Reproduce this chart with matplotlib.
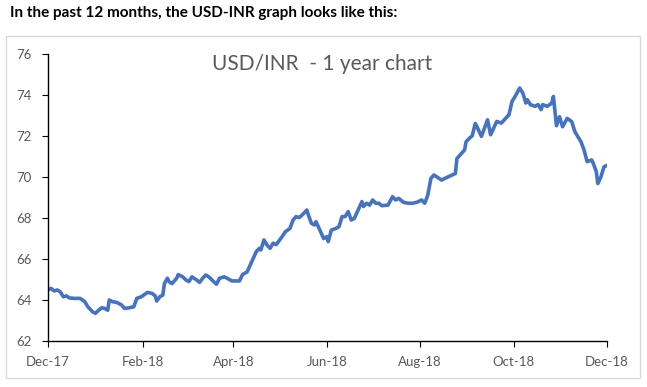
import matplotlib
matplotlib.use("Agg")
import matplotlib.pyplot as plt
import matplotlib.dates as mdates
from matplotlib.patches import Rectangle
import pandas as pd

dates = [
    "2017-12-01", "2017-12-03", "2017-12-05", "2017-12-07", "2017-12-09", "2017-12-11", "2017-12-13",
    "2017-12-15", "2017-12-18", "2017-12-22", "2017-12-25", "2017-12-27", "2017-12-30", "2018-01-01",
    "2018-01-03", "2018-01-05", "2018-01-07", "2018-01-09", "2018-01-10", "2018-01-12", "2018-01-15",
    "2018-01-18", "2018-01-20", "2018-01-23", "2018-01-26", "2018-01-28", "2018-01-31", "2018-02-02",
    "2018-02-04", "2018-02-07", "2018-02-09", "2018-02-10", "2018-02-12", "2018-02-14", "2018-02-15",
    "2018-02-17", "2018-02-18", "2018-02-20", "2018-02-23", "2018-02-24", "2018-02-27", "2018-03-01",
    "2018-03-03", "2018-03-05", "2018-03-08", "2018-03-10", "2018-03-12", "2018-03-14", "2018-03-16",
    "2018-03-18", "2018-03-21", "2018-03-23", "2018-03-26", "2018-03-28", "2018-03-31", "2018-04-02",
    "2018-04-05", "2018-04-07", "2018-04-10", "2018-04-12", "2018-04-14", "2018-04-16", "2018-04-18",
    "2018-04-19", "2018-04-21", "2018-04-23", "2018-04-25", "2018-04-27", "2018-04-29", "2018-05-02",
    "2018-05-05", "2018-05-08", "2018-05-10", "2018-05-12", "2018-05-14", "2018-05-16", "2018-05-19",
    "2018-05-20", "2018-05-22", "2018-05-24", "2018-05-25", "2018-05-28", "2018-05-30", "2018-06-01",
    "2018-06-02", "2018-06-04", "2018-06-07", "2018-06-09", "2018-06-11", "2018-06-13", "2018-06-15",
    "2018-06-17", "2018-06-19", "2018-06-21", "2018-06-24", "2018-06-25", "2018-06-27", "2018-06-29",
    "2018-07-01", "2018-07-03", "2018-07-05", "2018-07-07", "2018-07-11", "2018-07-14", "2018-07-16",
    "2018-07-18", "2018-07-21", "2018-07-24", "2018-07-27", "2018-07-30", "2018-08-02", "2018-08-04",
    "2018-08-06", "2018-08-08", "2018-08-10", "2018-08-12", "2018-08-15", "2018-08-17", "2018-08-19",
    "2018-08-22", "2018-08-24", "2018-08-25", "2018-08-28", "2018-08-30", "2018-08-31", "2018-09-02",
    "2018-09-04", "2018-09-06", "2018-09-07", "2018-09-10", "2018-09-14", "2018-09-16", "2018-09-20",
    "2018-09-23", "2018-09-26", "2018-09-28", "2018-09-30", "2018-10-02", "2018-10-05", "2018-10-07",
    "2018-10-09", "2018-10-10", "2018-10-12", "2018-10-15", "2018-10-17", "2018-10-19", "2018-10-20",
    "2018-10-23", "2018-10-26", "2018-10-27", "2018-10-29", "2018-10-31", "2018-11-02", "2018-11-05",
    "2018-11-08", "2018-11-10", "2018-11-12", "2018-11-14", "2018-11-16", "2018-11-18", "2018-11-21",
    "2018-11-22", "2018-11-24", "2018-11-25", "2018-11-27", "2018-11-29", "2018-12-01",
]
usd_inr = [
    64.49, 64.57, 64.44, 64.49, 64.40, 64.16, 64.20,
    64.10, 64.08, 64.08, 63.92, 63.67, 63.43, 63.35,
    63.50, 63.62, 63.59, 63.50, 64.00, 63.92, 63.88,
    63.76, 63.59, 63.62, 63.67, 64.08, 64.16, 64.27,
    64.37, 64.32, 64.20, 63.95, 64.16, 64.24, 64.80,
    65.06, 64.90, 64.80, 65.06, 65.24, 65.13, 64.98,
    64.90, 65.13, 64.98, 64.86, 65.06, 65.22, 65.13,
    64.98, 64.77, 65.06, 65.13, 65.06, 64.93, 64.93,
    64.93, 65.24, 65.37, 65.70, 66.03, 66.36, 66.52,
    66.44, 66.93, 66.68, 66.52, 66.77, 66.70, 67.00,
    67.33, 67.49, 67.90, 68.07, 68.02, 68.15, 68.39,
    68.15, 67.74, 67.66, 67.82, 67.33, 67.00, 67.09,
    66.85, 67.41, 67.49, 67.58, 68.07, 68.07, 68.31,
    67.90, 67.98, 68.31, 68.80, 68.56, 68.72, 68.63,
    68.88, 68.72, 68.72, 68.60, 68.63, 69.04, 68.88,
    68.96, 68.77, 68.72, 68.72, 68.77, 68.88, 68.72,
    69.12, 69.93, 70.10, 70.00, 69.85, 69.93, 70.00,
    70.10, 70.17, 70.90, 71.15, 71.32, 71.72, 71.88,
    72.01, 72.61, 72.47, 71.98, 72.79, 72.06, 72.71,
    72.63, 72.88, 73.04, 73.69, 73.93, 74.34, 74.10,
    73.61, 73.77, 73.53, 73.45, 73.53, 73.29, 73.53,
    73.45, 73.61, 73.93, 72.50, 72.94, 72.45, 72.86,
    72.70, 72.21, 71.96, 71.72, 71.32, 70.75, 70.83,
    70.67, 70.26, 69.68, 70.00, 70.49, 70.57,
]
x_ticks = ["2017-12-01", "2018-02-01", "2018-04-01", "2018-06-01",
           "2018-08-01", "2018-10-01", "2018-12-01"]
y_ticks = [62, 64, 66, 68, 70, 72, 74, 76]

heading = "In the past 12 months, the USD-INR graph looks like this:"
chart_title = "USD/INR  - 1 year chart"

W, H = 647, 387
fig = plt.figure(figsize=(W / 100, H / 100), dpi=100)
fig.patch.set_facecolor("white")

# outer chart border
fig.patches.append(Rectangle((6 / W, 1 - 378 / H), (640 - 6) / W, (378 - 36) / H,
                             transform=fig.transFigure, fill=False,
                             edgecolor="#d9d9d9", linewidth=1.0))

fig.text(10 / W, 1 - 13 / H, heading, fontsize=11, fontweight="bold",
         family=["Lato", "DejaVu Sans"], color="#000000", va="center", ha="left")

ax = fig.add_axes([48 / W, 1 - 341 / H, (607 - 48) / W, (341 - 54) / H])
d = pd.to_datetime(dates)
ax.plot(d, usd_inr, color="#4472C4", linewidth=2.6, solid_joinstyle="round",
        solid_capstyle="round")

ax.set_xlim(pd.Timestamp(x_ticks[0]), pd.Timestamp(x_ticks[-1]))
ax.set_ylim(62, 76)
ax.set_xticks(pd.to_datetime(x_ticks))
ax.xaxis.set_major_formatter(mdates.DateFormatter("%b-%y"))
ax.set_yticks(y_ticks)

for s in ["top", "right"]:
    ax.spines[s].set_visible(False)
for s in ["left", "bottom"]:
    ax.spines[s].set_color("#000000")
    ax.spines[s].set_linewidth(1.0)

ax.tick_params(axis="both", direction="out", length=4, width=0.8, color="#000000",
               labelcolor="#595959", labelsize=9.5)
ax.tick_params(axis="y", pad=8)
ax.tick_params(axis="x", pad=7)
for lab in ax.get_xticklabels() + ax.get_yticklabels():
    lab.set_family(["Lato", "DejaVu Sans"])

fig.text(322 / W, 1 - 64 / H, chart_title, fontsize=15, color="#595959",
         family=["Lato", "DejaVu Sans"], ha="center", va="center")

fig.savefig("out.png", dpi=100, facecolor="white")
